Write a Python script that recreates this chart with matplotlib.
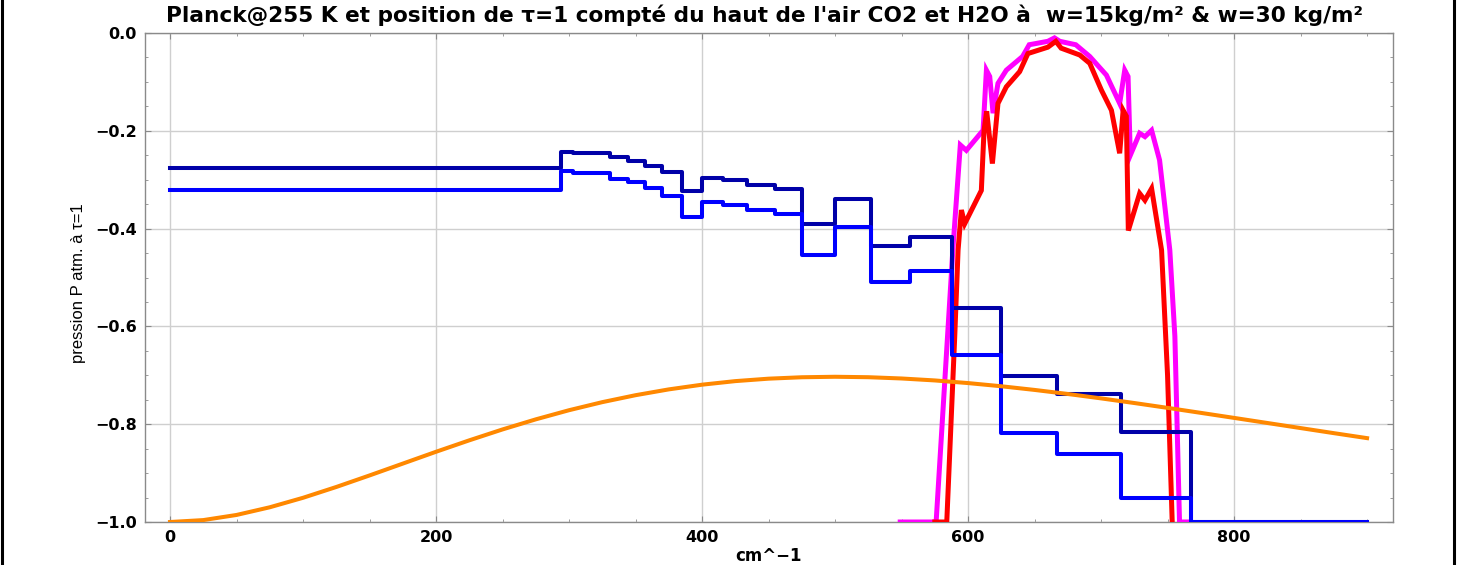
import numpy as np
import matplotlib.pyplot as plt
from matplotlib.lines import Line2D
from matplotlib.ticker import MultipleLocator

# Courbe de Planck à 255 K, mise à l'échelle (tous les 25 cm^-1)
planck_nu = [0, 25, 50, 75, 100, 125, 150, 175, 200, 225, 250, 275, 300, 325, 350, 375,
             400, 425, 450, 475, 500, 525, 550, 575, 600, 625, 650, 675, 700, 725, 750,
             775, 800, 825, 850, 875, 900]
planck_y = [-1.0, -0.9961, -0.9856, -0.9699, -0.9505, -0.9284, -0.9048, -0.8806, -0.8564,
            -0.8330, -0.8107, -0.7901, -0.7714, -0.7549, -0.7407, -0.7288, -0.7192, -0.7119,
            -0.7069, -0.7040, -0.7030, -0.7039, -0.7065, -0.7105, -0.7159, -0.7224, -0.7299,
            -0.7382, -0.7472, -0.7567, -0.7666, -0.7768, -0.7871, -0.7975, -0.8079, -0.8183,
            -0.8285]

# Bandes H2O (bords en cm^-1) et pression à tau=1
bandes = [0, 294, 303, 331, 344, 357, 370, 385, 400, 416, 434, 455, 475, 500, 527, 556,
          588, 625, 667, 715, 768, 900]
h2o_w30 = [-0.276, -0.243, -0.246, -0.2545, -0.262, -0.272, -0.285, -0.323, -0.296, -0.300,
           -0.311, -0.318, -0.391, -0.340, -0.436, -0.417, -0.5625, -0.701, -0.739, -0.815,
           -1.0]
h2o_w15 = [-0.3215, -0.283, -0.287, -0.299, -0.3055, -0.317, -0.333, -0.377, -0.3465,
           -0.3515, -0.361, -0.371, -0.455, -0.397, -0.509, -0.487, -0.658, -0.817, -0.861,
           -0.9515, -1.0]

# Bande CO2
co2_mag_x = [549, 576, 588.7, 594.2, 598.7, 611.3, 613.8, 616.3, 618.8, 622.5, 628.8, 641,
             646, 660, 665, 669, 681, 691.5, 704, 714, 717.8, 720.3, 722, 729, 733, 738,
             744, 751.7, 755.5, 759, 767]
co2_mag_y = [-1.0, -1.0, -0.438, -0.229, -0.24, -0.199, -0.076, -0.089, -0.164, -0.103,
             -0.076, -0.048, -0.024, -0.017, -0.010, -0.017, -0.024, -0.048, -0.086, -0.144,
             -0.076, -0.089, -0.25, -0.205, -0.212, -0.199, -0.26, -0.444, -0.62, -1.0, -1.0]
co2_red_x = [575, 584, 590, 592.5, 595, 597.5, 610, 612, 614, 618.3, 622.5, 628.8, 638.8,
             645, 660, 666, 670, 684, 691.5, 700.3, 707.8, 714, 716.6, 719, 720.5, 729, 733,
             738, 745.5, 750, 753.5]
co2_red_y = [-1.0, -1.0, -0.62, -0.444, -0.362, -0.39, -0.322, -0.2, -0.16, -0.267, -0.144,
             -0.11, -0.079, -0.042, -0.029, -0.017, -0.031, -0.045, -0.062, -0.117, -0.158,
             -0.246, -0.158, -0.17, -0.404, -0.328, -0.342, -0.318, -0.444, -0.70, -1.0]

plt.rcParams['font.family'] = ['DejaVu Sans']

fig = plt.figure(figsize=(14.61, 5.65), dpi=100)
ax = fig.add_axes([145 / 1461, 1 - 522 / 565, (1393 - 145) / 1461, (522 - 33) / 565])

ax.plot(co2_mag_x, co2_mag_y, color='#ff00ff', lw=3.6, solid_joinstyle='miter', zorder=3)
ax.plot(co2_red_x, co2_red_y, color='#ff0000', lw=3.6, solid_joinstyle='miter', zorder=3)
ax.plot(bandes, h2o_w30 + [h2o_w30[-1]], drawstyle='steps-post', color='#0000a8', lw=2.9, zorder=4)
ax.plot(bandes, h2o_w15 + [h2o_w15[-1]], drawstyle='steps-post', color='#0000ff', lw=2.9, zorder=4)
ax.plot(planck_nu, planck_y, color='#ff8800', lw=2.9, zorder=5)

ax.set_xlim(-18.8, 919.5)
ax.set_ylim(-1.0, 0.0)
ax.xaxis.set_major_locator(MultipleLocator(200))
ax.xaxis.set_minor_locator(MultipleLocator(50))
ax.yaxis.set_major_locator(MultipleLocator(0.2))
ax.yaxis.set_minor_locator(MultipleLocator(0.05))
ax.yaxis.set_major_formatter(plt.FuncFormatter(lambda v, p: f'{v:.1f}'.replace('-', '\u2212')))
ax.grid(True, which='major', color='#cfcfcf', lw=1.0)
ax.set_axisbelow(True)
for s in ax.spines.values():
    s.set_color('#8a8a8a')
    s.set_linewidth(1.0)
ax.tick_params(which='both', direction='in', top=True, right=True, color='#8a8a8a')
ax.tick_params(which='major', length=4, labelsize=11.5, pad=6)
ax.tick_params(which='minor', length=2.5)
for lab in ax.get_xticklabels() + ax.get_yticklabels():
    lab.set_fontweight('bold')

fig.text(0.523, 1 - 15 / 565,
         "Planck@255 K et position de \u03c4=1 compté du haut de l'air CO2 et H2O à  w=15kg/m² & w=30 kg/m²",
         ha='center', va='center', fontsize=15.6, fontweight='bold')
fig.text(768 / 1461, 1 - 556 / 565, 'cm^\u22121', ha='center', va='center',
         fontsize=12, fontweight='bold')
fig.text(79 / 1461, 1 - 283 / 565, 'pression P atm. à \u03c4=1', rotation=90,
         ha='center', va='center', fontsize=12,
         family=['Liberation Sans Narrow', 'Liberation Sans', 'DejaVu Sans'])

# cadre noir du graphique d'origine
fig.add_artist(Line2D([2 / 1461, 2 / 1461], [0, 1], color='black', lw=2.2))
fig.add_artist(Line2D([1453.5 / 1461, 1453.5 / 1461], [0, 1], color='black', lw=2.2))

fig.savefig('out.png', dpi=100)
